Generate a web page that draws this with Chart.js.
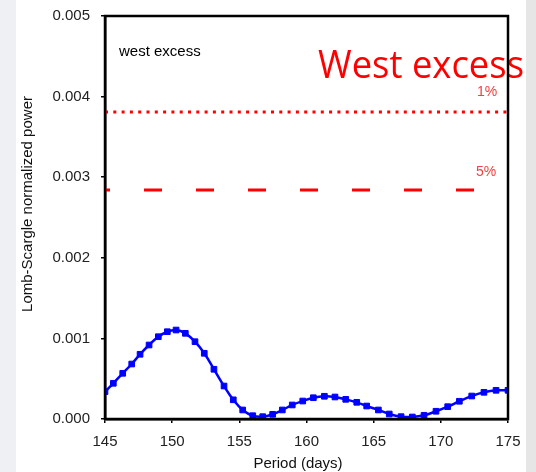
<!DOCTYPE html>
<html lang="en">
<head>
    <meta charset="UTF-8">
    <title>West excess periodogram</title>
    <script src="https://cdn.jsdelivr.net/npm/chart.js"></script>
    <style>
        html, body { margin: 0; padding: 0; background: #eef0f4; }
        #wrap { width: 536px; height: 472px; }
    </style>
</head>
<body>
    <div id="wrap"><canvas id="lsChart" width="536" height="472"></canvas></div>
    <script>
        // periods (days) and Lomb-Scargle power
        const periods = [145.0, 145.62, 146.32, 146.99, 147.61, 148.28, 148.97, 149.64, 150.29, 150.98,
                         151.70, 152.39, 153.11, 153.86, 154.55, 155.25, 156.00, 156.74, 157.48, 158.20,
                         158.94, 159.72, 160.51, 161.33, 162.12, 162.92, 163.74, 164.48, 165.35, 166.16,
                         167.04, 167.88, 168.75, 169.64, 170.51, 171.38, 172.30, 173.21, 174.11, 175.0];
        const power = [0.000339, 0.000443, 0.000567, 0.000682, 0.000803, 0.000918, 0.001021, 0.001083, 0.001104, 0.001063,
                       0.000959, 0.000815, 0.000617, 0.000409, 0.000238, 0.000112, 0.000041, 0.000029, 0.000058, 0.000112,
                       0.000174, 0.000223, 0.000264, 0.000282, 0.000273, 0.000244, 0.000207, 0.000161, 0.000112, 0.000062,
                       0.000029, 0.000025, 0.000046, 0.000096, 0.000153, 0.000220, 0.000285, 0.000331, 0.000356, 0.000356];
        // significance levels
        const level1 = 0.00381;   // 1%
        const level5 = 0.00284;   // 5%
        const level1Span = [145, 175];
        const level5Span = [145, 172.6];
        const xTicks = [145, 150, 155, 160, 165, 170, 175];
        const yTicks = [0, 0.001, 0.002, 0.003, 0.004, 0.005];

        const tickFont = { family: 'Liberation Sans, Arial, sans-serif', size: 15 };

        const decor = {
            id: 'decor',
            beforeDraw(chart) {
                const ctx = chart.ctx;
                ctx.save();
                ctx.fillStyle = '#eef0f4';
                ctx.fillRect(0, 0, 536, 472);
                ctx.fillStyle = '#e6e6e6';
                ctx.fillRect(526, 0, 10, 472);
                ctx.fillStyle = '#ffffff';
                ctx.fillRect(16, 0, 510, 472);
                ctx.restore();
            },
            afterDraw(chart) {
                const ctx = chart.ctx;
                const a = chart.chartArea;
                const ys = chart.scales.y;
                ctx.save();

                ctx.fillStyle = '#000';
                ctx.font = '15px Liberation Sans, Arial, sans-serif';
                ctx.textBaseline = 'middle';
                ctx.textAlign = 'left';
                ctx.fillText('west excess', 119, 52);

                ctx.fillStyle = '#f04040';
                ctx.font = '14px Liberation Sans, Arial, sans-serif';
                ctx.fillText('1%', 477, ys.getPixelForValue(level1) - 20);
                ctx.fillText('5%', 476, ys.getPixelForValue(level5) - 18);

                // axis titles
                ctx.fillStyle = '#111';
                ctx.font = '15px Liberation Sans, Arial, sans-serif';
                ctx.textAlign = 'center';
                ctx.fillText('Period (days)', 298, 464);
                ctx.save();
                ctx.translate(28, 204);
                ctx.rotate(-Math.PI / 2);
                ctx.fillText('Lomb-Scargle normalized power', 0, 0);
                ctx.restore();

                // big slide caption
                ctx.fillStyle = '#ff0000';
                ctx.font = '39px Open Sans, sans-serif';
                ctx.textAlign = 'left';
                ctx.textBaseline = 'alphabetic';
                const w = ctx.measureText('West excess').width;
                ctx.save();
                ctx.translate(318, 78);
                ctx.scale(206 / w, 1);
                ctx.fillText('West excess', 0, 0);
                ctx.restore();

                // frame
                ctx.strokeStyle = '#000';
                ctx.lineWidth = 2.5;
                ctx.strokeRect(a.left, a.top, a.right - a.left, a.bottom - a.top);
                ctx.restore();
            }
        };

        new Chart(document.getElementById('lsChart'), {
            type: 'line',
            data: {
                datasets: [
                    {
                        data: periods.map((p, i) => ({ x: p, y: power[i] })),
                        borderColor: '#0000ff',
                        backgroundColor: '#0000ff',
                        borderWidth: 2.5,
                        tension: 0.4,
                        pointStyle: 'rect',
                        pointRadius: 4,
                        pointBorderWidth: 1
                    },
                    {
                        data: level1Span.map(p => ({ x: p, y: level1 })),
                        borderColor: '#ff0000',
                        borderWidth: 3,
                        borderDash: [3, 5.3],
                        pointRadius: 0
                    },
                    {
                        data: level5Span.map(p => ({ x: p, y: level5 })),
                        borderColor: '#ff0000',
                        borderWidth: 3,
                        borderDash: [18, 34],
                        borderDashOffset: 13,
                        pointRadius: 0
                    }
                ]
            },
            options: {
                responsive: false,
                animation: false,
                layout: { padding: { left: 0, top: 16, right: 28, bottom: 0 } },
                plugins: { legend: { display: false }, tooltip: { enabled: false } },
                scales: {
                    x: {
                        type: 'linear',
                        min: 145, max: 175,
                        afterFit(s) { s.height = 53; s.paddingLeft = 0; s.paddingRight = 0; },
                        afterBuildTicks(s) { s.ticks = xTicks.map(v => ({ value: v })); },
                        grid: { drawOnChartArea: false, tickLength: 4, color: '#000', lineWidth: 1.5 },
                        border: { color: '#000', width: 2.5 },
                        ticks: { font: tickFont, color: '#222', padding: 10, maxRotation: 0 }
                    },
                    y: {
                        min: 0, max: 0.005,
                        afterFit(s) { s.width = 105; s.paddingTop = 0; s.paddingBottom = 0; },
                        afterBuildTicks(s) { s.ticks = yTicks.map(v => ({ value: v })); },
                        grid: { drawOnChartArea: false, tickLength: 4, color: '#000', lineWidth: 1.5 },
                        border: { color: '#000', width: 2.5 },
                        ticks: { font: tickFont, color: '#222', padding: 11, callback: v => v.toFixed(3) }
                    }
                }
            },
            plugins: [decor]
        });
    </script>
</body>
</html>
